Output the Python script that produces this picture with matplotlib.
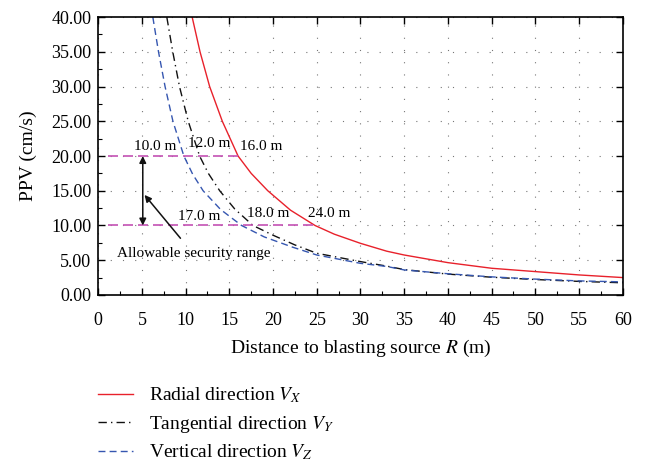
import matplotlib
matplotlib.use("Agg")
import matplotlib.pyplot as plt
from matplotlib.lines import Line2D

# === DATA ===
r_radial = [10.75, 11.65, 12.75, 14.2, 16.0, 17.5, 19.4, 22.0, 24.8, 27.0, 30.0,
            33.0, 35.0, 40.0, 45.0, 50.0, 55.0, 60.0]
v_radial = [40.0, 35.0, 30.0, 25.0, 20.0, 17.5, 15.0, 12.2, 10.0, 8.75, 7.43,
            6.3, 5.75, 4.65, 3.84, 3.36, 2.88, 2.5]

r_tang = [7.85, 8.53, 9.3, 10.3, 11.6, 12.6, 13.9, 15.6, 17.7, 20.0, 22.5,
          25.0, 30.0, 33.0, 35.0, 40.0, 45.0, 50.0, 55.0, 60.0]
v_tang = [40.0, 35.0, 30.0, 25.0, 20.0, 17.5, 15.0, 12.4, 10.0, 8.6, 7.2,
          6.0, 4.8, 4.15, 3.65, 3.0, 2.55, 2.22, 1.95, 1.75]

r_vert = [6.25, 6.9, 7.65, 8.55, 9.8, 10.8, 12.0, 14.0, 16.4, 19.0, 22.3,
          25.0, 30.0, 33.0, 35.0, 40.0, 45.0, 50.0, 55.0, 60.0]
v_vert = [40.0, 35.0, 30.0, 25.0, 20.0, 17.4, 15.0, 12.3, 10.0, 8.35, 6.85,
          5.75, 4.55, 4.1, 3.6, 3.05, 2.6, 2.28, 2.02, 1.88]

# security thresholds and where the curves cross them
limits = [20.0, 10.0]
limit_start = 1.1
limit_end = [16.0, 24.8]
upper_labels = ["10.0 m", "12.0 m", "16.0 m"]
lower_labels = ["17.0 m", "18.0 m", "24.0 m"]

labels = ["Radial direction $V_X$", "Tangential direction $V_Y$",
          "Vertical direction $V_Z$"]

# === STYLE ===
plt.rcParams["font.family"] = ["Liberation Serif", "DejaVu Serif"]
plt.rcParams["mathtext.fontset"] = "stix"

RED = "#e8212b"
BLACK = "#111111"
BLUE = "#3556b0"
PINK = "#c452b4"

fig = plt.figure(figsize=(6.46, 4.63), dpi=100)
ax = fig.add_axes([0.152, 0.363, 0.812, 0.6])

ax.plot(r_radial, v_radial, color=RED, lw=1.0)
ax.plot(r_tang, v_tang, color=BLACK, lw=1.0, dashes=(6, 3, 1, 3))
ax.plot(r_vert, v_vert, color=BLUE, lw=1.0, dashes=(5, 3))

for lvl, xe in zip(limits, limit_end):
    ax.plot([limit_start, xe], [lvl, lvl], color=PINK, lw=1.2, dashes=(6, 3))

# crossing labels
for x, y, s in zip([6.5, 12.7, 18.7], [20.5, 20.9, 20.4], upper_labels):
    ax.text(x, y, s, ha="center", va="bottom", fontsize=11)
for x, y, s in zip([11.5, 19.5, 26.4], [10.4, 10.8, 10.8], lower_labels):
    ax.text(x, y, s, ha="center", va="bottom", fontsize=11)

# double arrow for the allowable range
ax.annotate("", xy=(5.1, limits[0]), xytext=(5.1, limits[1]),
            arrowprops=dict(arrowstyle="<|-|>", color=BLACK, lw=1.1,
                            mutation_scale=10, shrinkA=0, shrinkB=0))
ax.annotate("Allowable security range", xy=(5.3, 14.4), xytext=(10.9, 5.9),
            ha="center", va="center", fontsize=11,
            arrowprops=dict(arrowstyle="-|>", color=BLACK, lw=1.1,
                            mutation_scale=10, shrinkA=6, shrinkB=0))

ax.set_xlim(0, 60)
ax.set_ylim(0, 40)
ax.set_xticks(range(0, 61, 5))
ax.set_yticks(range(0, 41, 5))
ax.set_yticklabels([f"{v:.2f}" for v in range(0, 41, 5)])
ax.set_xticks([x + 2.5 for x in range(0, 60, 5)], minor=True)
ax.set_yticks([y + 2.5 for y in range(0, 40, 5)], minor=True)
ax.tick_params(which="major", direction="in", length=5, width=1,
               top=True, right=True, labelsize=13, pad=5)
ax.tick_params(axis="x", which="major", pad=12)
ax.tick_params(which="minor", direction="in", length=3, width=0.8,
               top=False, right=False)
for sp in ax.spines.values():
    sp.set_linewidth(1.2)

ax.grid(True, which="major", color="#777777", lw=0.8, linestyle=(0, (1, 10)))
ax.set_axisbelow(True)

ax.set_xlabel("Distance to blasting source $R$ (m)", fontsize=14, labelpad=7)
ax.set_ylabel("PPV (cm/s)", fontsize=14, labelpad=10)

handles = [Line2D([], [], color=RED, lw=1.0),
           Line2D([], [], color=BLACK, lw=1.0, dashes=(6, 3, 1, 3)),
           Line2D([], [], color=BLUE, lw=1.0, dashes=(5, 3))]
fig.legend(handles, labels, loc="upper left", bbox_to_anchor=(0.152, 0.167),
           frameon=False, fontsize=14, handlelength=1.8, handletextpad=0.8,
           labelspacing=0.42, borderpad=0, borderaxespad=0)

fig.savefig("out.png", dpi=100)
